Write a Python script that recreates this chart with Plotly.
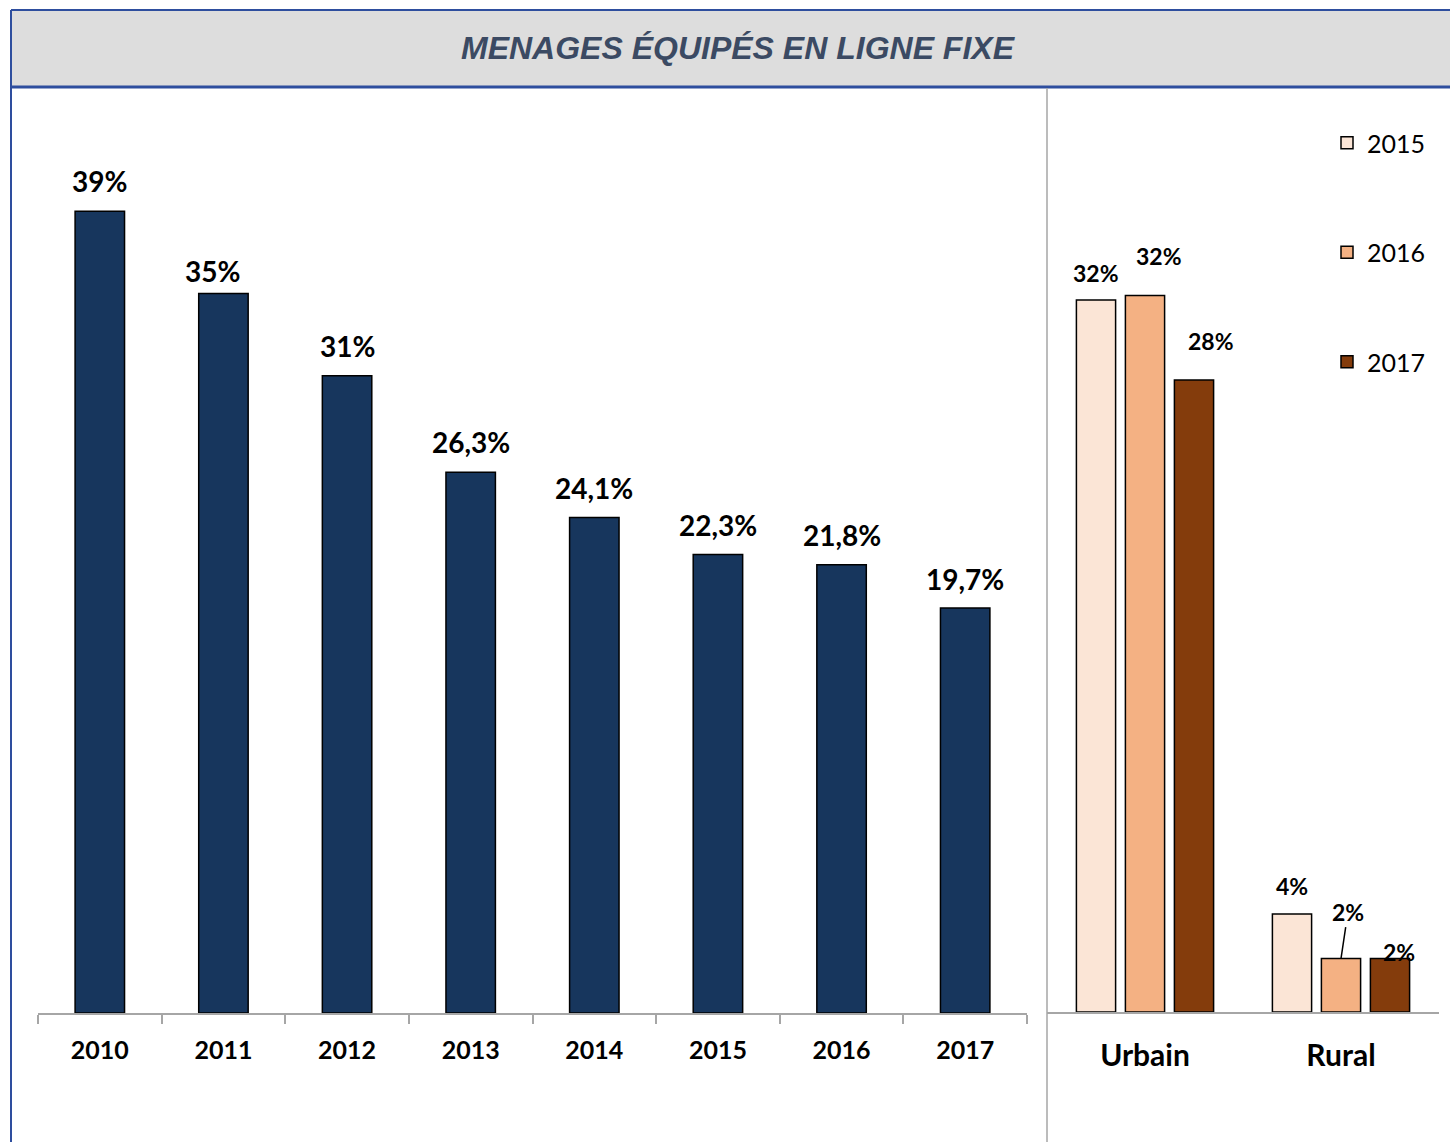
import plotly.graph_objects as go
from plotly.subplots import make_subplots

# ---------------- data ----------------
years = ["2010", "2011", "2012", "2013", "2014", "2015", "2016", "2017"]
menages = [39, 35, 31, 26.3, 24.1, 22.3, 21.8, 19.7]
menages_labels = ["39%", "35%", "31%", "26,3%", "24,1%", "22,3%", "21,8%", "19,7%"]

zones = ["Urbain", "Rural"]
series_years = ["2015", "2016", "2017"]
zone_2015 = [32.0, 4.4]
zone_2016 = [32.2, 2.4]
zone_2017 = [28.4, 2.4]
zone_labels_2015 = ["32%", "4%"]
zone_labels_2016 = ["32%", "2%"]
zone_labels_2017 = ["28%", "2%"]

title_text = "MENAGES ÉQUIPÉS EN LIGNE FIXE"

# ---------------- styling ----------------
W, H = 1450, 1142
def px(x):
    return x / W
def py(y):
    return 1 - y / H

NAVY = "#17365D"
ZONE_COLORS = ["#FBE5D6", "#F4B183", "#843C0C"]
AXIS_GRAY = "#A6A6A6"
FONT = "Lato, 'Open Sans', Arial, sans-serif"

# left plot geometry
L_X0, L_X1, L_BASE, L_TOP = 38, 1027, 1013, 120
L_PPU = 20.56  # pixels per percentage unit
# right plot geometry
R_X0, R_X1, R_BASE, R_TOP = 1047, 1439, 1012, 120
R_PPU = 22.25
R_BAR_W = 0.2
R_OFFSETS = [-0.35, -0.10, 0.15]
R_CAT_PX = (R_X1 - R_X0) / len(zones)

# left label placement (pixel shifts relative to bar top centre)
left_dx = [0, -11, 0, 0, 0, 0, 0, 0]
left_dy = [30, 22, 30, 30, 30, 30, 30, 29]
# right label placement (pixel shifts relative to bar top centre), per series/zone
label_dx = [[0, 0], [14, 7], [17, 9]]
label_dy = [[27, 28], [40, 47], [39, 7]]
leader = [[False, False], [False, True], [False, False]]

fig = make_subplots(rows=1, cols=2)

fig.add_trace(go.Bar(
    x=years, y=menages, width=0.4,
    marker=dict(color=NAVY, line=dict(color="#000000", width=1.5)),
    showlegend=False, hoverinfo="skip",
), row=1, col=1)

zone_series = [zone_2015, zone_2016, zone_2017]
zone_labels = [zone_labels_2015, zone_labels_2016, zone_labels_2017]
for i, (yr, vals) in enumerate(zip(series_years, zone_series)):
    fig.add_trace(go.Bar(
        x=zones, y=vals, name=yr, width=R_BAR_W, offset=R_OFFSETS[i],
        marker=dict(color=ZONE_COLORS[i], line=dict(color="#000000", width=1.5)),
        legendgroup=yr, hoverinfo="skip",
    ), row=1, col=2)

annotations = []
for k, (v, lab) in enumerate(zip(menages, menages_labels)):
    # category index k on the category axis
    annotations.append(dict(
        x=k, y=v, xref="x", yref="y", text=lab, showarrow=False,
        yanchor="middle", xshift=left_dx[k], yshift=left_dy[k],
        font=dict(family=FONT, size=28, color="#000000", weight="bold"),
    ))

for i in range(len(series_years)):
    for j, z in enumerate(zones):
        centre_shift = (R_OFFSETS[i] + R_BAR_W / 2) * R_CAT_PX
        val = zone_series[i][j]
        if leader[i][j]:
            annotations.append(dict(
                x=j, y=val, xref="x2", yref="y2", text=zone_labels[i][j],
                xshift=centre_shift, showarrow=True, arrowhead=0,
                arrowwidth=1.5, arrowcolor="#000000", standoff=0,
                ax=label_dx[i][j], ay=-label_dy[i][j],
                font=dict(family=FONT, size=23, color="#000000", weight="bold"),
            ))
        else:
            annotations.append(dict(
                x=j, y=val, xref="x2", yref="y2", text=zone_labels[i][j],
                showarrow=False, yanchor="middle",
                xshift=centre_shift + label_dx[i][j], yshift=label_dy[i][j],
                font=dict(family=FONT, size=23, color="#000000", weight="bold"),
            ))

annotations.append(dict(
    x=px(738), y=py(48), xref="paper", yref="paper", text=title_text,
    showarrow=False, xanchor="center", yanchor="middle",
    font=dict(family="'Liberation Sans Narrow', 'Arial Narrow', 'Liberation Sans', Arial",
              size=32, color="#3B4A63", weight="bold", style="italic"),
))

shapes = [
    dict(type="rect", xref="paper", yref="paper", x0=px(11), x1=1, y0=py(87), y1=py(10),
         fillcolor="#DDDDDD", line=dict(width=0), layer="below"),
    dict(type="line", xref="paper", yref="paper", x0=px(11), x1=1, y0=py(10), y1=py(10),
         line=dict(color="#2E4E9E", width=2)),
    dict(type="line", xref="paper", yref="paper", x0=px(11), x1=1, y0=py(87), y1=py(87),
         line=dict(color="#2E4E9E", width=3)),
    dict(type="line", xref="paper", yref="paper", x0=px(11), x1=px(11), y0=0, y1=py(10),
         line=dict(color="#2E4E9E", width=2)),
    dict(type="line", xref="paper", yref="paper", x0=px(1047), x1=px(1047), y0=0, y1=py(88),
         line=dict(color=AXIS_GRAY, width=1.5)),
]

fig.update_layout(
    width=W, height=H,
    margin=dict(l=0, r=0, t=0, b=0, autoexpand=False),
    paper_bgcolor="#FFFFFF", plot_bgcolor="rgba(0,0,0,0)",
    barmode="group",
    annotations=annotations, shapes=shapes,
    font=dict(family=FONT, color="#000000"),
    legend=dict(
        x=px(1327), y=py(120), xanchor="left", yanchor="top",
        font=dict(family=FONT, size=25, color="#000000"),
        tracegroupgap=74, bgcolor="rgba(0,0,0,0)",
    ),
    xaxis=dict(
        type="category", range=[-0.5, len(years) - 0.5],
        domain=[px(L_X0), px(L_X1)], showline=True, linecolor=AXIS_GRAY, linewidth=1.5,
        ticks="outside", tickson="boundaries", ticklen=9, tickcolor=AXIS_GRAY, tickwidth=1.5,
        ticklabelstandoff=14, showgrid=False, tickangle=0,
        tickfont=dict(family=FONT, size=25, color="#000000", weight="bold"),
    ),
    yaxis=dict(
        domain=[py(L_BASE), py(L_TOP)], range=[0, (L_BASE - L_TOP) / L_PPU],
        showgrid=False, showticklabels=False, zeroline=False, showline=False, ticks="",
    ),
    xaxis2=dict(
        type="category", range=[-0.5, len(zones) - 0.5],
        domain=[px(R_X0), px(R_X1)], showline=True, linecolor=AXIS_GRAY, linewidth=1.5,
        ticks="", ticklabelstandoff=16, showgrid=False,
        tickfont=dict(family=FONT, size=30, color="#000000", weight="bold"),
    ),
    yaxis2=dict(
        domain=[py(R_BASE), py(R_TOP)], range=[0, (R_BASE - R_TOP) / R_PPU],
        showgrid=False, showticklabels=False, zeroline=False, showline=False, ticks="",
    ),
)

fig.write_html("out.html", config={"displayModeBar": False},
               post_script="document.body.style.margin='0';")
